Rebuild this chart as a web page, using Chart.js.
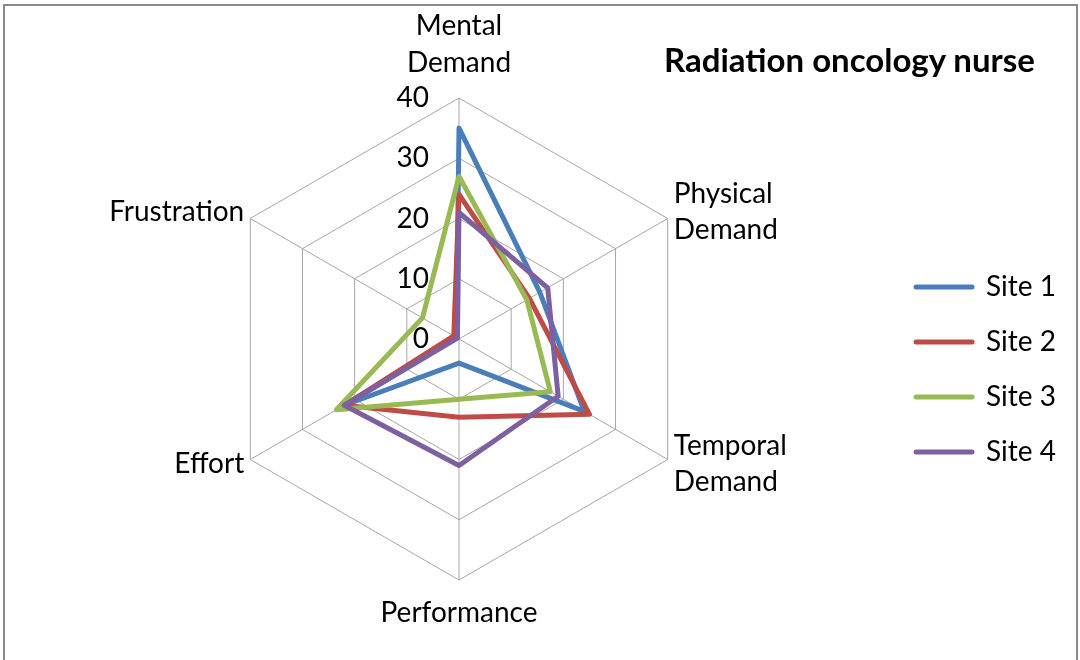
<!DOCTYPE html>
<html>
<head>
<meta charset="utf-8">
<script src="https://cdn.jsdelivr.net/npm/chart.js@4.4.1/dist/chart.umd.min.js"></script>
<style>
  html, body { margin: 0; padding: 0; background: #ffffff; }
  #wrap { position: relative; width: 1080px; height: 660px; overflow: hidden; background: #ffffff; }
  #frame { position: absolute; left: 3px; top: 4px; width: 1075px; height: 720px; border: 2px solid #8a8a8a; box-sizing: border-box; }
  #title { position: absolute; left: 664px; top: 40px; font-family: Lato, "Open Sans", sans-serif; font-weight: bold; font-size: 33px; line-height: 1.2; color: #000; white-space: nowrap; }
  canvas { position: absolute; left: 0; top: 0; }
</style>
</head>
<body>
<div id="wrap">
  <div id="frame"></div>
  <canvas id="c" width="1080" height="660"></canvas>
  <div id="title">Radiation oncology nurse</div>
</div>
<script>
// ---- data ----
const categories = [['Mental', 'Demand'], ['Physical', 'Demand'], ['Temporal', 'Demand'], 'Performance', 'Effort', 'Frustration'];
const seriesNames = ['Site 1', 'Site 2', 'Site 3', 'Site 4'];
const site1 = [35, 15.5, 24, 4, 22, 0.5];
const site2 = [24, 13.5, 25, 13, 22, 1];
const site3 = [27, 13, 17.5, 10, 23.5, 7];
const site4 = [21, 17, 19, 21, 22, 0.3];
const tickLabels = ['0', '10', '20', '30', '40'];

// ---- style / layout ----
const FONT = 'Lato, "Open Sans", sans-serif';
const FONT_SIZE = 28;
const LINE_H = 1.3;
const seriesColors = ['#4A7EBB', '#BE4B48', '#98B954', '#7D60A0'];
const GRID = '#a6a6a6';
const PLOT_CX = 459, PLOT_CY = 339, PLOT_R = 241;
const TICK_OFFSET = 30;

const seriesValues = [site1, site2, site3, site4];

const tickLabelPlugin = {
  id: 'tickLabelPlugin',
  afterDatasetsDraw(chart) {
    const s = chart.scales.r;
    const ctx = chart.ctx;
    ctx.save();
    ctx.font = FONT_SIZE + 'px ' + FONT;
    ctx.fillStyle = '#000';
    ctx.textAlign = 'right';
    ctx.textBaseline = 'middle';
    s.ticks.forEach(t => {
      const p = s.getPointPositionForValue(0, t.value);
      ctx.fillText(t.label, p.x - TICK_OFFSET, p.y);
    });
    ctx.restore();
  }
};

function labelPadding(ctx) {
  const i = ctx.index;
  if (i === 0) return 17;
  if (i === 3) return 15;
  return 7;
}

new Chart(document.getElementById('c'), {
  type: 'radar',
  data: {
    labels: categories,
    datasets: seriesNames.map((name, i) => ({
      label: name,
      data: seriesValues[i],
      borderColor: seriesColors[i],
      backgroundColor: seriesColors[i],
      borderWidth: 5,
      fill: false,
      pointRadius: 0,
      pointHoverRadius: 0,
      order: seriesNames.length - 1 - i
    }))
  },
  plugins: [tickLabelPlugin],
  options: {
    responsive: false,
    animation: false,
    devicePixelRatio: 1,
    layout: { padding: { top: 79, right: 14, bottom: 0, left: 0 } },
    elements: { line: { tension: 0, borderJoinStyle: 'round' } },
    plugins: {
      tooltip: { enabled: false },
      title: { display: false },
      legend: {
        position: 'right',
        labels: {
          usePointStyle: true,
          pointStyleWidth: 56,
          boxHeight: 5,
          padding: 27,
          color: '#000',
          font: { family: FONT, size: FONT_SIZE },
          generateLabels: (chart) => chart.data.datasets.map((ds, i) => ({
            text: ds.label,
            fillStyle: ds.borderColor,
            strokeStyle: ds.borderColor,
            lineWidth: 5,
            lineCap: 'round',
            pointStyle: 'line',
            hidden: false,
            datasetIndex: i
          }))
        }
      }
    },
    scales: {
      r: {
        min: 0,
        max: 40,
        ticks: { stepSize: 10, display: false, callback: (v, i) => tickLabels[i] },
        grid: { color: GRID, lineWidth: 1 },
        angleLines: { color: GRID, lineWidth: 1 },
        pointLabels: {
          color: '#000',
          font: { family: FONT, size: FONT_SIZE, lineHeight: LINE_H },
          padding: labelPadding
        },
        afterFit: (scale) => {
          scale.xCenter = PLOT_CX;
          scale.yCenter = PLOT_CY;
          scale.drawingArea = PLOT_R;
          const ctx = scale.ctx;
          const lh = FONT_SIZE * LINE_H;
          scale._pointLabelItems = scale._pointLabels.map((label, i) => {
            const lines = Array.isArray(label) ? label : [label];
            ctx.save();
            ctx.font = FONT_SIZE + 'px ' + FONT;
            const w = Math.max(...lines.map(t => ctx.measureText(t).width));
            ctx.restore();
            const h = lines.length * lh;
            const pad = labelPadding({ index: i });
            const p = scale.getPointPosition(i, scale.drawingArea + pad);
            const dx = p.x - scale.xCenter, dy = p.y - scale.yCenter;
            let textAlign, left, top;
            if (Math.abs(dx) < 1) {
              textAlign = 'center';
              left = p.x - w / 2;
              top = dy < 0 ? p.y - h : p.y;
            } else {
              textAlign = dx > 0 ? 'left' : 'right';
              left = dx > 0 ? p.x : p.x - w;
              top = p.y - h / 2 + (dy < 0 ? -3 : 1);
            }
            return { visible: true, x: p.x, y: top, textAlign, left, top, right: left + w, bottom: top + h };
          });
        }
      }
    }
  }
});
</script>
</body>
</html>
